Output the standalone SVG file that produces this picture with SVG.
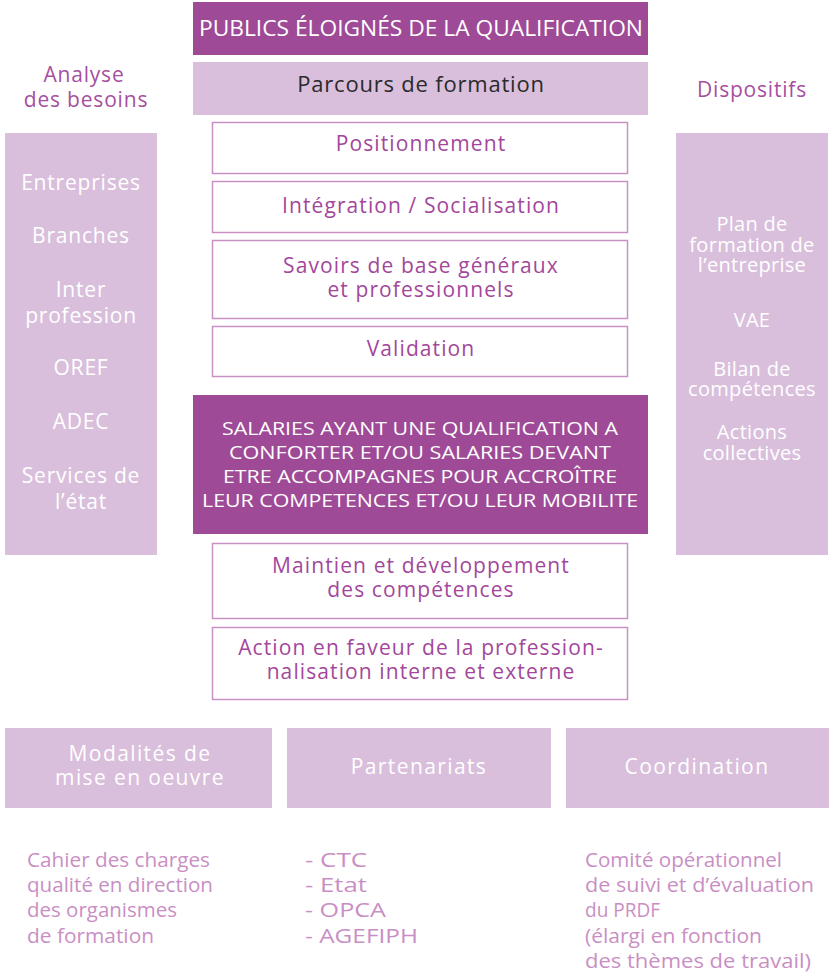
<svg xmlns="http://www.w3.org/2000/svg" width="834" height="979" viewBox="0 0 834 979">
<style>
.dark{fill:#9e4a97}
.light{fill:#d9bfdc}
.box{fill:#ffffff;stroke:#c890c3;stroke-width:1.5}
text{font-family:"Open Sans","Noto Sans",sans-serif;text-anchor:middle}
.w{fill:#ffffff}
.head{fill:#a64f9f;font-size:21px;letter-spacing:0.8px}
.colL{fill:#ffffff;font-size:21px;letter-spacing:0.8px}
.colR{fill:#ffffff;font-size:20px;letter-spacing:0.3px}
.ctr{fill:#a2479b;font-size:21px;letter-spacing:1.1px}
.caps{fill:#ffffff;font-size:19px}
.bot{fill:#ffffff;font-size:21px;letter-spacing:1.4px}
.note{fill:#c98fc4;font-size:20px;text-anchor:start}
</style>
<rect width="834" height="979" fill="#ffffff"/>
<g id="publics">
<rect class="dark" x="193" y="2" width="455" height="53"/>
<text class="w" x="421" y="36" font-size="21" textLength="444" lengthAdjust="spacingAndGlyphs">PUBLICS ÉLOIGNÉS DE LA QUALIFICATION</text>
</g>
<g id="parcours">
<rect class="light" x="193" y="62" width="455" height="53"/>
<text x="421" y="92" font-size="22" letter-spacing="0.8" fill="#2a2a2a">Parcours de formation</text>
</g>
<g id="analyse">
<text class="head" x="84" y="82">Analyse</text>
<text class="head" x="86" y="107" letter-spacing="0">des besoins</text>
</g>
<g id="dispositifs-title">
<text class="head" x="752" y="97">Dispositifs</text>
</g>
<g id="besoins">
<rect class="light" x="5" y="133" width="152" height="422"/>
<text class="colL" x="81" y="190">Entreprises</text>
<text class="colL" x="81" y="243">Branches</text>
<text class="colL" x="81" y="297">Inter</text>
<text class="colL" x="81" y="323">profession</text>
<text class="colL" x="81" y="375">OREF</text>
<text class="colL" x="81" y="429">ADEC</text>
<text class="colL" x="81" y="483">Services de</text>
<text class="colL" x="81" y="509">l’état</text>
</g>
<g id="dispositifs">
<rect class="light" x="676" y="133" width="152" height="422"/>
<text class="colR" x="752" y="231">Plan de</text>
<text class="colR" x="752" y="252">formation de</text>
<text class="colR" x="752" y="272">l’entreprise</text>
<text class="colR" x="752" y="327">VAE</text>
<text class="colR" x="752" y="376">Bilan de</text>
<text class="colR" x="752" y="396">compétences</text>
<text class="colR" x="752" y="439">Actions</text>
<text class="colR" x="752" y="460">collectives</text>
</g>
<g id="positionnement">
<rect class="box" x="212.5" y="122.5" width="415" height="51"/>
<text class="ctr" x="421" y="151">Positionnement</text>
</g>
<g id="integration">
<rect class="box" x="212.5" y="181.5" width="415" height="51"/>
<text class="ctr" x="421" y="213">Intégration / Socialisation</text>
</g>
<g id="savoirs">
<rect class="box" x="212.5" y="240.5" width="415" height="78"/>
<text class="ctr" x="421" y="273">Savoirs de base généraux</text>
<text class="ctr" x="421" y="297">et professionnels</text>
</g>
<g id="validation">
<rect class="box" x="212.5" y="326.5" width="415" height="50"/>
<text class="ctr" x="421" y="356">Validation</text>
</g>
<g id="salaries">
<rect class="dark" x="193" y="395" width="455" height="139"/>
<text class="caps" x="420" y="435" textLength="396" lengthAdjust="spacingAndGlyphs">SALARIES AYANT UNE QUALIFICATION A</text>
<text class="caps" x="420" y="459" textLength="382" lengthAdjust="spacingAndGlyphs">CONFORTER ET/OU SALARIES DEVANT</text>
<text class="caps" x="420" y="483" textLength="394" lengthAdjust="spacingAndGlyphs">ETRE ACCOMPAGNES POUR ACCROÎTRE</text>
<text class="caps" x="420" y="507" textLength="436" lengthAdjust="spacingAndGlyphs">LEUR COMPETENCES ET/OU LEUR MOBILITE</text>
</g>
<g id="maintien">
<rect class="box" x="212.5" y="543.5" width="415" height="75"/>
<text class="ctr" x="421" y="573">Maintien et développement</text>
<text class="ctr" x="421" y="597">des compétences</text>
</g>
<g id="action">
<rect class="box" x="212.5" y="627.5" width="415" height="72"/>
<text class="ctr" x="421" y="655" letter-spacing="0.6">Action en faveur de la profession-</text>
<text class="ctr" x="421" y="679" letter-spacing="0.6">nalisation interne et externe</text>
</g>
<g id="modalites">
<rect class="light" x="5" y="728" width="267" height="80"/>
<text class="bot" x="140" y="761">Modalités de</text>
<text class="bot" x="140" y="785">mise en oeuvre</text>
</g>
<g id="partenariats">
<rect class="light" x="287" y="728" width="264" height="80"/>
<text class="bot" x="419" y="774">Partenariats</text>
</g>
<g id="coordination">
<rect class="light" x="566" y="728" width="263" height="80"/>
<text class="bot" x="697" y="774">Coordination</text>
</g>
<g id="modalites-note">
<text class="note" x="27" y="867" textLength="183" lengthAdjust="spacingAndGlyphs">Cahier des charges</text>
<text class="note" x="27" y="892" textLength="186" lengthAdjust="spacingAndGlyphs">qualité en direction</text>
<text class="note" x="27" y="917" textLength="150" lengthAdjust="spacingAndGlyphs">des organismes</text>
<text class="note" x="27" y="943" textLength="127" lengthAdjust="spacingAndGlyphs">de formation</text>
</g>
<g id="partenariats-note">
<text class="note" x="305" y="867" textLength="62" lengthAdjust="spacingAndGlyphs">- CTC</text>
<text class="note" x="305" y="892" textLength="62" lengthAdjust="spacingAndGlyphs">- Etat</text>
<text class="note" x="305" y="917" textLength="81" lengthAdjust="spacingAndGlyphs">- OPCA</text>
<text class="note" x="305" y="943" textLength="113" lengthAdjust="spacingAndGlyphs">- AGEFIPH</text>
</g>
<g id="coordination-note">
<text class="note" x="585" y="867" textLength="197" lengthAdjust="spacingAndGlyphs">Comité opérationnel</text>
<text class="note" x="585" y="892" textLength="229" lengthAdjust="spacingAndGlyphs">de suivi et d’évaluation</text>
<text class="note" x="585" y="917" textLength="75" lengthAdjust="spacingAndGlyphs">du PRDF</text>
<text class="note" x="585" y="943" textLength="177" lengthAdjust="spacingAndGlyphs">(élargi en fonction</text>
<text class="note" x="585" y="968" textLength="226" lengthAdjust="spacingAndGlyphs">des thèmes de travail)</text>
</g>
<g id="connectors"></g>
</svg>
